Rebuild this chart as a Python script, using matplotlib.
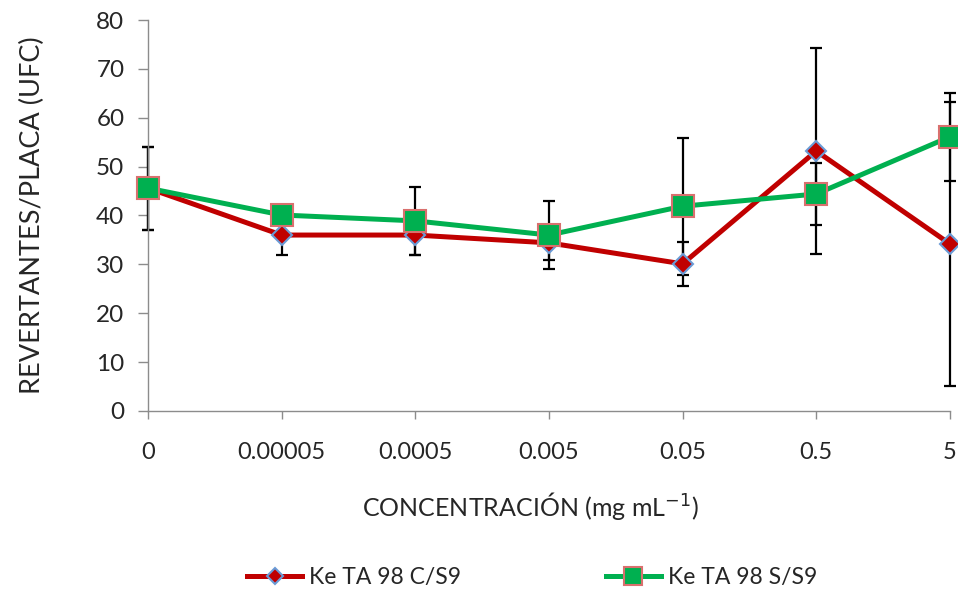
#!/usr/bin/env python3
"""
Revertantes/placa vs concentracion, Ke TA 98 con y sin S9.
"""
import matplotlib.pyplot as plt
import numpy as np

plt.rcParams['font.family'] = ['Lato', 'DejaVu Sans']

# Concentraciones (categorias en el eje x)
conc_labels = ['0', '0.00005', '0.0005', '0.005', '0.05', '0.5', '5']

# Ke TA 98 C/S9
cs9_mean = [45.6, 36.0, 36.0, 34.4, 30.1, 53.2, 34.2]
cs9_err = [8.5, 4.0, 4.0, 3.5, 4.5, 21.0, 29.0]

# Ke TA 98 S/S9
ss9_mean = [45.6, 40.1, 38.9, 36.0, 41.9, 44.4, 56.1]
ss9_err = [8.5, 2.0, 7.0, 7.0, 14.0, 6.3, 9.0]

x = np.arange(len(conc_labels))

fig = plt.figure(figsize=(9.58, 5.9), dpi=100)
ax = fig.add_axes([0.1545, 0.3034, 0.837, 0.6627])

# error bars behind the series
ax.errorbar(x, cs9_mean, yerr=cs9_err, fmt='none', ecolor='black',
            elinewidth=1.6, capsize=4.5, capthick=1.6, zorder=2, clip_on=False)
ax.errorbar(x, ss9_mean, yerr=ss9_err, fmt='none', ecolor='black',
            elinewidth=1.6, capsize=4.5, capthick=1.6, zorder=2, clip_on=False)

ax.plot(x, cs9_mean, color='#C00000', linewidth=3.6, marker='D', markersize=10,
        markerfacecolor='#C00000', markeredgecolor='#6A9BD6', markeredgewidth=1.5,
        label='Ke TA 98 C/S9', zorder=3, clip_on=False)
ax.plot(x, ss9_mean, color='#00B050', linewidth=3.6, marker='s', markersize=15.5,
        markerfacecolor='#00B050', markeredgecolor='#D9706E', markeredgewidth=1.5,
        label='Ke TA 98 S/S9', zorder=4, clip_on=False)

ax.set_xlim(0, len(conc_labels) - 1)
ax.set_ylim(0, 80)
ax.set_yticks(np.arange(0, 81, 10))
ax.set_xticks(x)
ax.set_xticklabels(conc_labels)

for side in ['top', 'right']:
    ax.spines[side].set_visible(False)
for side in ['left', 'bottom']:
    ax.spines[side].set_color('#8C8C8C')
    ax.spines[side].set_linewidth(1.0)

ax.tick_params(axis='y', colors='#8C8C8C', length=7, width=1.0, pad=10,
               labelsize=17.5, labelcolor='#262626')
ax.tick_params(axis='x', colors='#8C8C8C', length=6, width=1.0, pad=16,
               labelsize=17, labelcolor='#262626')

ax.set_ylabel('REVERTANTES/PLACA (UFC)', fontsize=19.5, color='#262626', labelpad=37)
ax.set_xlabel('CONCENTRACIÓN (mg mL$^{-1}$)', fontsize=18, color='#262626', labelpad=20)
ax.xaxis.label.set_x(0.477)

ax.legend(loc='center', bbox_to_anchor=(0.479, -0.425), ncol=2, frameon=False,
          fontsize=16.5, columnspacing=6.3, handlelength=2.4, handletextpad=0.3,
          labelcolor='#262626', markerscale=0.85)

plt.savefig('out.png', dpi=100)
